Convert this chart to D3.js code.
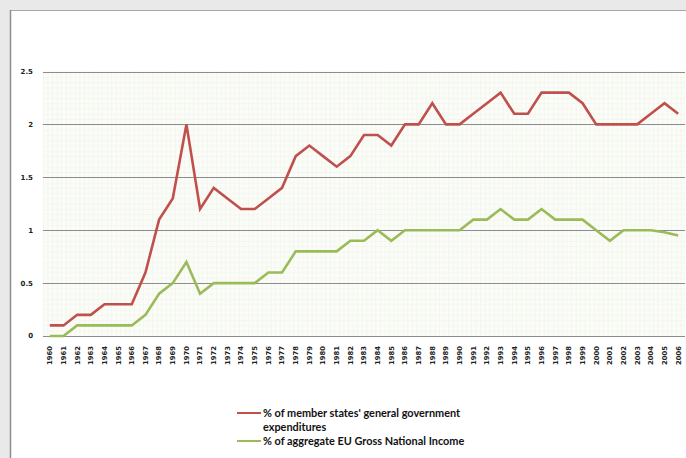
<!DOCTYPE html>
<html>
<head>
<meta charset="utf-8">
<script src="https://cdn.jsdelivr.net/npm/d3@7"></script>
<style>
  html, body { margin: 0; padding: 0; background: #e9e9e9; }
  svg { display: block; }
</style>
</head>
<body>
<svg id="chart" width="686" height="458"></svg>
<script>
// Years on the category axis
const years = ["1960","1961","1962","1963","1964","1965","1966","1967","1968","1969",
  "1970","1971","1972","1973","1974","1975","1976","1977","1978","1979",
  "1980","1981","1982","1983","1984","1985","1986","1987","1988","1989",
  "1990","1991","1992","1993","1994","1995","1996","1997","1998","1999",
  "2000","2001","2002","2003","2004","2005","2006"];

// EU budget as % of member states' general government expenditures
const govExpenditure = [0.1,0.1,0.2,0.2,0.3,0.3,0.3,0.6,1.1,1.3,
  2.0,1.2,1.4,1.3,1.2,1.2,1.3,1.4,1.7,1.8,
  1.7,1.6,1.7,1.9,1.9,1.8,2.0,2.0,2.2,2.0,
  2.0,2.1,2.2,2.3,2.1,2.1,2.3,2.3,2.3,2.2,
  2.0,2.0,2.0,2.0,2.1,2.2,2.1];

// EU budget as % of aggregate EU Gross National Income
const gniShare = [0,0,0.1,0.1,0.1,0.1,0.1,0.2,0.4,0.5,
  0.7,0.4,0.5,0.5,0.5,0.5,0.6,0.6,0.8,0.8,
  0.8,0.8,0.9,0.9,1.0,0.9,1.0,1.0,1.0,1.0,
  1.0,1.1,1.1,1.2,1.1,1.1,1.2,1.1,1.1,1.1,
  1.0,0.9,1.0,1.0,1.0,0.98,0.95];

const yTicks = [0, 0.5, 1, 1.5, 2, 2.5];

const seriesNames = [
  ["% of member states' general government", "expenditures"],
  ["% of aggregate EU Gross National Income"]
];
const seriesColors = ["#c0504d", "#9bbb59"];

const svg = d3.select("#chart");

// White chart panel with its frame
svg.append("rect").attr("x", 10).attr("y", 10).attr("width", 676).attr("height", 448).attr("fill", "#ffffff");
svg.append("line").attr("x1", 10).attr("x2", 686).attr("y1", 10.5).attr("y2", 10.5)
  .attr("stroke", "#a9a9a9").attr("stroke-width", 1);
svg.append("line").attr("x1", 10.5).attr("x2", 10.5).attr("y1", 10).attr("y2", 458)
  .attr("stroke", "#8f8f8f").attr("stroke-width", 1.5);

const plot = { left: 43, right: 685, top: 71.5, bottom: 336 };

const x = d3.scalePoint().domain(years).range([plot.left, plot.right]).padding(0.5);
const y = d3.scaleLinear().domain([0, 2.5]).range([plot.bottom, plot.top]);

// Fine minor grid inside the plot area
const defs = svg.append("defs");
const cellW = x.step() / 3;
const cellH = y(0) - y(0.05);
const pat = defs.append("pattern").attr("id", "minor").attr("patternUnits", "userSpaceOnUse")
  .attr("x", plot.left).attr("y", plot.top).attr("width", cellW).attr("height", cellH);
pat.append("rect").attr("width", cellW).attr("height", cellH).attr("fill", "#fbfcf8");
pat.append("line").attr("x1", 0).attr("x2", cellW).attr("y1", 0.25).attr("y2", 0.25)
  .attr("stroke", "#edf2e6").attr("stroke-width", 0.6);
pat.append("line").attr("x1", 0.25).attr("x2", 0.25).attr("y1", 0).attr("y2", cellH)
  .attr("stroke", "#edf2e6").attr("stroke-width", 0.6);

svg.append("rect").attr("x", plot.left).attr("y", plot.top)
  .attr("width", plot.right - plot.left).attr("height", plot.bottom - plot.top)
  .attr("fill", "url(#minor)");

// Major horizontal gridlines
svg.append("g").selectAll("line").data(yTicks).join("line")
  .attr("x1", plot.left).attr("x2", plot.right)
  .attr("y1", d => Math.round(y(d)) + 0.5).attr("y2", d => Math.round(y(d)) + 0.5)
  .attr("stroke", "#8c8c8c").attr("stroke-width", 1);

// Y axis labels
svg.append("g").selectAll("text").data(yTicks).join("text")
  .attr("x", 33).attr("y", d => y(d)).attr("dy", "0.35em")
  .attr("text-anchor", "end")
  .attr("font-family", "DejaVu Sans, Verdana, sans-serif")
  .attr("font-weight", "bold").attr("font-size", "7px").attr("fill", "#222")
  .text(d => d);

// X axis labels, rotated
svg.append("g").selectAll("text").data(years).join("text")
  .attr("transform", d => `translate(${x(d)},346) rotate(-90)`)
  .attr("dy", "0.35em").attr("text-anchor", "end")
  .attr("font-family", "DejaVu Sans, Verdana, sans-serif")
  .attr("font-weight", "bold").attr("font-size", "6.8px").attr("fill", "#222")
  .text(d => d);

// Series lines
const line = d3.line().x((d, i) => x(years[i])).y(d => y(d));
[govExpenditure, gniShare].forEach((vals, k) => {
  svg.append("path").datum(vals)
    .attr("d", line)
    .attr("fill", "none")
    .attr("stroke", seriesColors[k])
    .attr("stroke-width", 2.6)
    .attr("stroke-linejoin", "miter");
});

// Legend
const legend = svg.append("g").attr("font-family", "Lato, Liberation Sans, Arial, sans-serif")
  .attr("font-weight", "bold").attr("font-size", "10.9px").attr("fill", "#111");
const legendRows = [413, 441];
seriesNames.forEach((lines, k) => {
  const ly = legendRows[k];
  legend.append("line").attr("x1", 237).attr("x2", 261).attr("y1", ly).attr("y2", ly)
    .attr("stroke", seriesColors[k]).attr("stroke-width", 2);
  lines.forEach((t, j) => {
    legend.append("text").attr("x", 263).attr("y", ly + j * 14).attr("dy", "0.35em").text(t);
  });
});
</script>
</body>
</html>
